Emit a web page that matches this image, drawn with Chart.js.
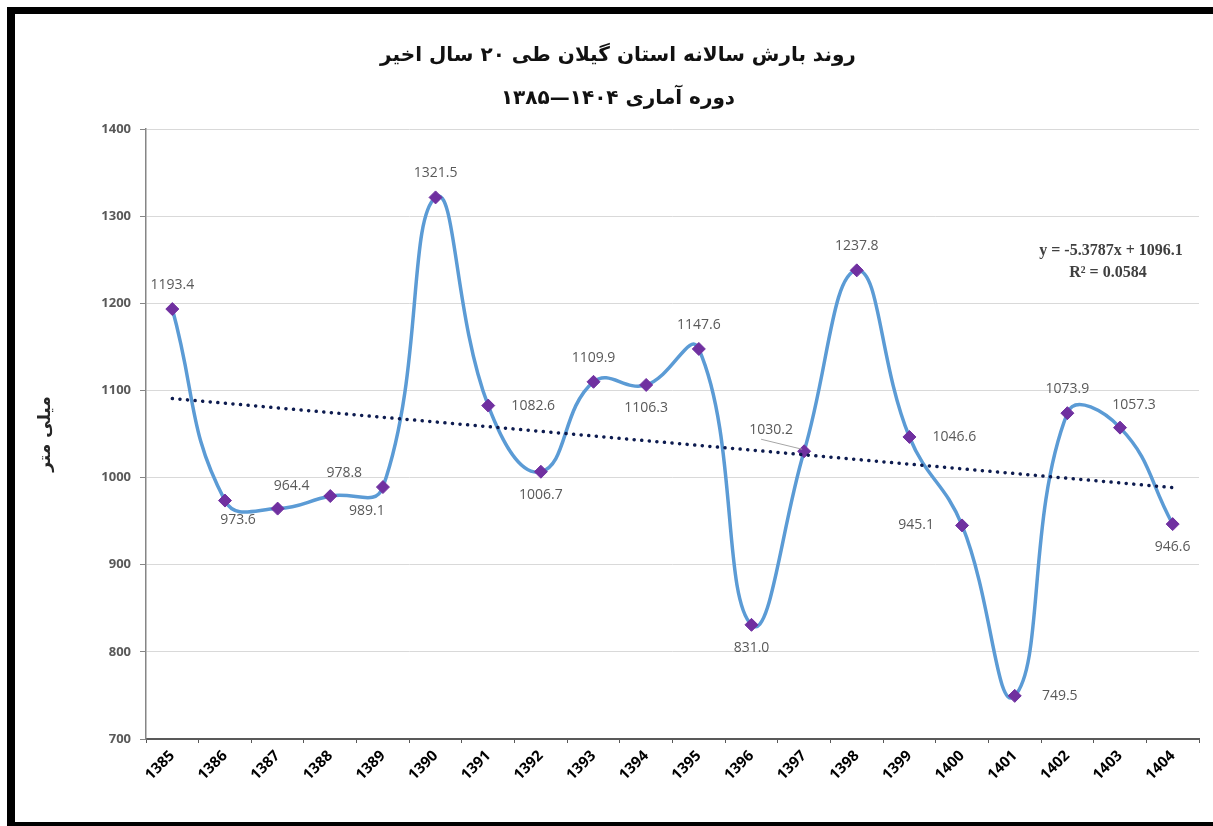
<!DOCTYPE html>
<html lang="fa">
<head>
    <meta charset="UTF-8">
    <title>روند بارش سالانه استان گیلان</title>
    <script src="https://cdn.jsdelivr.net/npm/chart.js"></script>
    <style>
        html, body { margin: 0; padding: 0; background: #fff; overflow: hidden; }
        #wrap { position: relative; width: 1213px; height: 826px; overflow: hidden; }
        #rainChart { display: block; }
        .bar { position: absolute; background: #000; pointer-events: none; }
        #barLeft { left: 7px; top: 7px; width: 8px; height: 822px; }
        #barTop { left: 7px; top: 7px; width: 1206px; height: 7px; }
        #barBottom { left: 7px; top: 822px; width: 1206px; height: 4px; }
    </style>
</head>
<body>
    <div id="wrap">
        <canvas id="rainChart" width="1213" height="826"></canvas>
        <div class="bar" id="barLeft"></div>
        <div class="bar" id="barTop"></div>
        <div class="bar" id="barBottom"></div>
    </div>
    <script>
        // سال‌ها و مقادیر بارش (میلی متر)
        const years = ['1385', '1386', '1387', '1388', '1389', '1390', '1391', '1392', '1393', '1394',
                       '1395', '1396', '1397', '1398', '1399', '1400', '1401', '1402', '1403', '1404'];
        const rainfall = [1193.4, 973.6, 964.4, 978.8, 989.1, 1321.5, 1082.6, 1006.7, 1109.9, 1106.3,
                          1147.6, 831.0, 1030.2, 1237.8, 1046.6, 945.1, 749.5, 1073.9, 1057.3, 946.6];
        // خط روند: مقدار ابتدا و انتها
        const trendStart = 1090.7;
        const trendEnd = 988.5;
        const trendText = ['y = -5.3787x + 1096.1', 'R² = 0.0584'];

        const titleLines = ['روند بارش سالانه استان گیلان طی ۲۰ سال اخیر', 'دوره آماری ۱۴۰۴—۱۳۸۵'];
        const yTitle = 'میلی متر';

        // جای برچسب هر نقطه
        const labelPlace = ['above', 'belowRight', 'aboveRight', 'aboveRight', 'belowLeft', 'above', 'right', 'below', 'above', 'below',
                            'above', 'below', 'leader', 'above', 'right', 'left', 'right', 'above', 'aboveRight', 'below'];
        const placeOffset = {
            above: [0, -24], below: [0, 23], right: [45, 0], left: [-46, 0],
            aboveRight: [14, -23], belowRight: [13, 19], belowLeft: [-16, 24], leader: [-33, -21]
        };

        const labelPlugin = {
            id: 'pointLabels',
            afterDatasetsDraw(chart) {
                const ctx = chart.ctx;
                const meta = chart.getDatasetMeta(0);
                ctx.save();
                ctx.font = '14px "Open Sans"';
                ctx.fillStyle = '#595959';
                ctx.textAlign = 'center';
                ctx.textBaseline = 'middle';
                meta.data.forEach((pt, i) => {
                    const off = placeOffset[labelPlace[i]];
                    const lx = pt.x + off[0];
                    const ly = pt.y + off[1];
                    ctx.fillText(rainfall[i].toFixed(1), lx, ly);
                    if (labelPlace[i] === 'leader') {
                        ctx.strokeStyle = '#a6a6a6';
                        ctx.lineWidth = 1;
                        ctx.beginPath();
                        ctx.moveTo(lx - 10, ly + 9);
                        ctx.lineTo(pt.x - 2, pt.y - 2);
                        ctx.stroke();
                    }
                });
                // معادله خط روند
                const area = chart.chartArea;
                ctx.font = 'bold 16px "Liberation Serif"';
                ctx.fillStyle = '#404040';
                ctx.fillText(trendText[0], area.right - 88, area.top + 122);
                ctx.fillText(trendText[1], area.right - 91, area.top + 144);
                ctx.restore();
            }
        };

        const ctx = document.getElementById('rainChart').getContext('2d');
        const chart = new Chart(ctx, {
            type: 'line',
            data: {
                labels: years,
                datasets: [
                    {
                        label: 'بارش سالانه',
                        data: rainfall,
                        borderColor: '#5b9bd5',
                        borderWidth: 3.5,
                        tension: 0.45,
                        pointStyle: 'rectRot',
                        pointRadius: 6.5,
                        pointBackgroundColor: '#7030a0',
                        pointBorderColor: '#7030a0',
                        pointBorderWidth: 1,
                        order: 1
                    },
                    {
                        label: 'روند',
                        data: [{ x: years[0], y: trendStart }, { x: years[years.length - 1], y: trendEnd }],
                        borderColor: '#0d1b4f',
                        borderWidth: 3.5,
                        borderDash: [0.1, 7.5],
                        borderCapStyle: 'round',
                        pointRadius: 0,
                        tension: 0,
                        order: 0
                    }
                ]
            },
            options: {
                responsive: false,
                animation: false,
                layout: { padding: { left: 37, right: 14, top: 0, bottom: 0 } },
                plugins: {
                    legend: { display: false },
                    tooltip: { enabled: false },
                    title: {
                        display: true,
                        text: titleLines,
                        color: '#111',
                        font: { family: '"DejaVu Sans"', size: 20, weight: 'bold', lineHeight: 2.15 },
                        padding: { top: 34, bottom: 9 }
                    }
                },
                scales: {
                    x: {
                        offset: true,
                        afterFit: s => { s.height = 87; },
                        grid: { display: true, offset: true, drawOnChartArea: false, tickLength: 4, tickColor: '#595959' },
                        border: { display: true, color: '#595959', width: 2 },
                        ticks: {
                            minRotation: 45, maxRotation: 45, autoSkip: false, padding: 4,
                            color: '#000', font: { family: '"Open Sans"', size: 15, weight: 'bold' }
                        }
                    },
                    y: {
                        min: 700, max: 1400,
                        afterFit: s => { s.width = 109; },
                        grid: { color: '#d9d9d9', lineWidth: 1, tickLength: 6, tickColor: '#868686' },
                        border: { display: true, color: '#868686', width: 1.5 },
                        ticks: {
                            stepSize: 100, padding: 9,
                            callback: v => String(v),
                            color: '#595959', font: { family: '"Open Sans"', size: 13, weight: 'bold' }
                        },
                        title: {
                            display: true, text: yTitle, color: '#262626',
                            font: { family: '"DejaVu Sans"', size: 17, weight: 'bold' },
                            padding: { top: -2, bottom: 0 }
                        }
                    }
                }
            },
            plugins: [labelPlugin]
        });
    </script>
</body>
</html>
